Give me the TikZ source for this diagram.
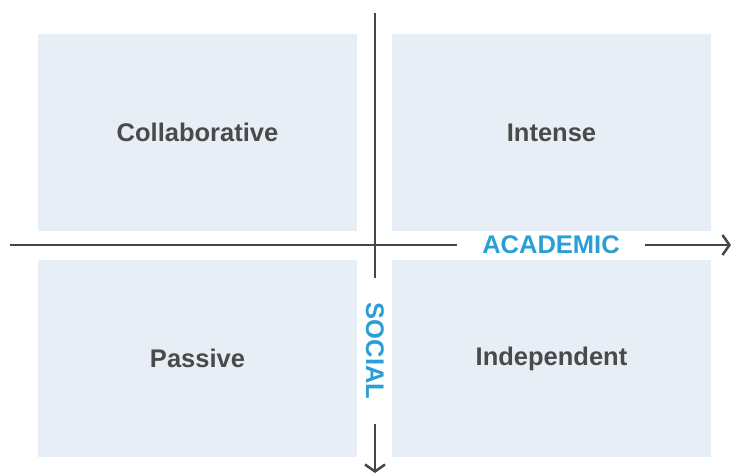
\documentclass[tikz,border=0pt]{standalone}
\usepackage{fontspec}
\setmainfont{Liberation Sans}
\usepackage{tikz}
\usetikzlibrary{arrows.meta}
\usetikzlibrary{positioning}
\definecolor{boxfill}{HTML}{E8EEF6}
\definecolor{labelgray}{HTML}{4A4A4A}
\definecolor{axisblue}{HTML}{2A9FD6}
\tikzstyle{quadrant} = [rectangle, fill=boxfill, minimum width=319pt, minimum height=197pt, text centered, font=\fontsize{25.5}{30}\selectfont\bfseries, text=labelgray, inner sep=0pt]
\tikzstyle{axislabel} = [fill=white, inner xsep=25pt, inner ysep=4pt, outer sep=0pt, font=\fontsize{25.5}{30}\selectfont\bfseries, text=axisblue]
\tikzstyle{axis} = [draw=labelgray!95!black, line width=2.5pt]

\begin{document}
\begin{tikzpicture}[x=1pt, y=-1pt]
 \useasboundingbox (0,0) rectangle (732,474);

 % the four quadrants
 \node (collab) [quadrant] at (197.5,132.5) {Collaborative};
 \node (intense) [quadrant] at (551.5,132.5) {Intense};
 \node (passive) [quadrant] at (197.5,358.5) {Passive};
 \node (indep) [quadrant] at (551.5,358.5) {Independent};

 % axes, broken where the labels sit
 \coordinate (hstart) at (10,245);
 \coordinate (hend) at (731,245);
 \coordinate (vstart) at (375,13);
 \coordinate (vend) at (375,473);
 \node (academic) [axislabel] at (551,245) {ACADEMIC};
 \node (social) [axislabel, rotate=-90] at (375,351) {SOCIAL};

 \draw [axis] (hstart) -- (academic.west);
 \draw [axis, -{Straight Barb[length=7pt, width=20pt]}] (academic.east) -- (hend);
 \draw [axis] (vstart) -- (social.west);
 \draw [axis, -{Straight Barb[length=7pt, width=20pt]}] (social.east) -- (vend);
\end{tikzpicture}
\end{document}
